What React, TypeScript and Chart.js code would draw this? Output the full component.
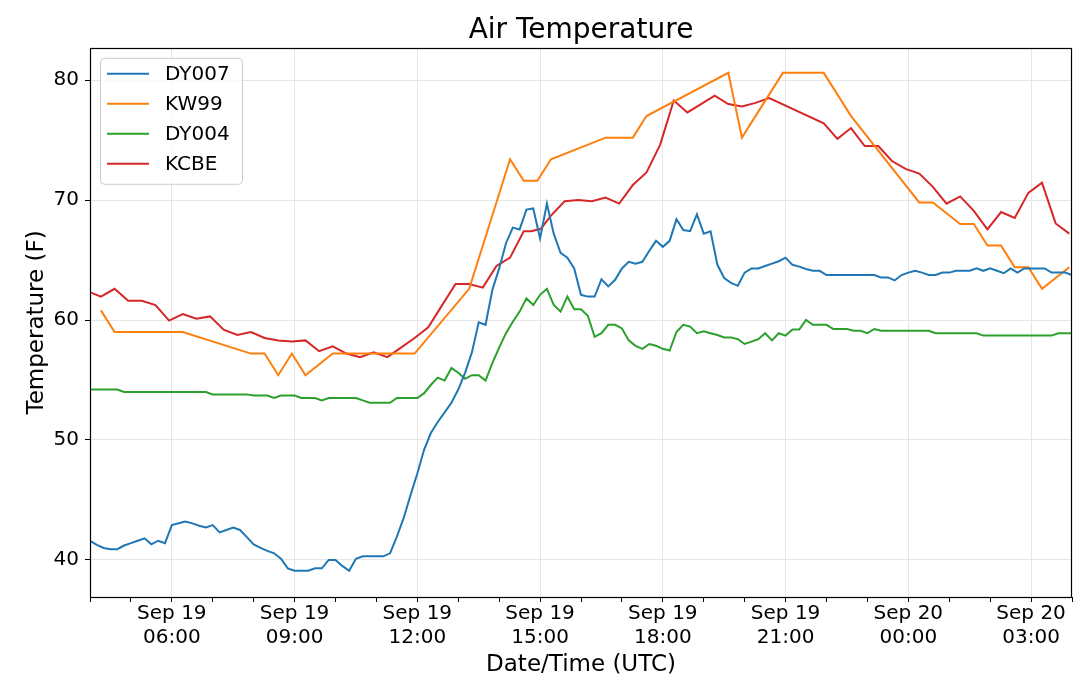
import React, { useEffect, useRef } from 'react';
import { Chart, registerables } from 'chart.js';

Chart.register(...registerables);

// ---------- data ----------
const SERIES_NAMES = ['DY007', 'KW99', 'DY004', 'KCBE'];
const SERIES_COLORS = ['#1f77b4', '#ff7f0e', '#2ca02c', '#d62728'];

// DY stations: one reading every 10 minutes from Sep 19 04:00 to Sep 20 04:00
const DY_START_HOUR = 4;
const DY_STEP_MINUTES = 10;

const DY007_VALUES = [
  41.6, 41.25, 41.0, 40.9, 40.9, 41.2, 41.4, 41.6, 41.8, 41.3,
  41.6, 41.4, 42.9, 43.05, 43.2, 43.05, 42.85, 42.7, 42.9, 42.3,
  42.5, 42.7, 42.5, 41.9, 41.3, 41.0, 40.75, 40.55, 40.1, 39.3,
  39.1, 39.1, 39.1, 39.3, 39.3, 40.0, 40.0, 39.5, 39.1, 40.1,
  40.3, 40.3, 40.3, 40.3, 40.55, 41.95, 43.5, 45.4, 47.2, 49.2,
  50.6, 51.5, 52.3, 53.1, 54.2, 55.6, 57.3, 59.8, 59.6, 62.5,
  64.3, 66.4, 67.7, 67.55, 69.2, 69.3, 66.8, 69.7, 67.2, 65.6,
  65.2, 64.3, 62.1, 61.95, 61.95, 63.4, 62.8, 63.35, 64.3, 64.85,
  64.7, 64.85, 65.75, 66.6, 66.1, 66.6, 68.4, 67.5, 67.4, 68.8,
  67.2, 67.4, 64.6, 63.5, 63.1, 62.85, 63.95, 64.3, 64.3, 64.5,
  64.7, 64.9, 65.2, 64.6, 64.45, 64.25, 64.1, 64.1, 63.75, 63.75,
  63.75, 63.75, 63.75, 63.75, 63.75, 63.75, 63.55, 63.55, 63.3, 63.75,
  63.95, 64.1, 63.95, 63.75, 63.75, 63.95, 63.95, 64.1, 64.1, 64.1,
  64.3, 64.1, 64.3, 64.1, 63.9, 64.3, 63.95, 64.3, 64.3, 64.3,
  64.3, 63.95, 63.95, 63.95, 63.75,
];

const DY004_VALUES = [
  54.2, 54.2, 54.2, 54.2, 54.2, 54.0, 54.0, 54.0, 54.0, 54.0,
  54.0, 54.0, 54.0, 54.0, 54.0, 54.0, 54.0, 54.0, 53.8, 53.8,
  53.8, 53.8, 53.8, 53.8, 53.7, 53.7, 53.7, 53.5, 53.7, 53.7,
  53.7, 53.5, 53.5, 53.5, 53.3, 53.5, 53.5, 53.5, 53.5, 53.5,
  53.3, 53.1, 53.1, 53.1, 53.1, 53.5, 53.5, 53.5, 53.5, 53.9,
  54.6, 55.2, 54.95, 56.0, 55.6, 55.1, 55.4, 55.4, 54.95, 56.4,
  57.7, 58.9, 59.85, 60.7, 61.8, 61.25, 62.1, 62.6, 61.25, 60.7,
  61.95, 60.9, 60.9, 60.35, 58.6, 58.9, 59.6, 59.6, 59.3, 58.3,
  57.85, 57.6, 58.0, 57.85, 57.6, 57.45, 59.0, 59.6, 59.45, 58.9,
  59.05, 58.9, 58.75, 58.55, 58.55, 58.4, 58.0, 58.2, 58.4, 58.9,
  58.3, 58.9, 58.7, 59.2, 59.2, 60.0, 59.6, 59.6, 59.6, 59.25,
  59.25, 59.25, 59.1, 59.1, 58.9, 59.25, 59.1, 59.1, 59.1, 59.1,
  59.1, 59.1, 59.1, 59.1, 58.9, 58.9, 58.9, 58.9, 58.9, 58.9,
  58.9, 58.7, 58.7, 58.7, 58.7, 58.7, 58.7, 58.7, 58.7, 58.7,
  58.7, 58.7, 58.9, 58.9, 58.9,
];

const KW99_TIMES = [
  '19 04:16', '19 04:36', '19 06:16', '19 07:56', '19 08:16', '19 08:36', '19 08:56',
  '19 09:16', '19 09:56', '19 11:56', '19 13:16', '19 14:16', '19 14:36', '19 14:56',
  '19 15:16', '19 16:36', '19 17:16', '19 17:36', '19 19:36', '19 19:56', '19 20:56',
  '19 21:56', '19 22:36', '20 00:16', '20 00:36', '20 01:16', '20 01:36', '20 01:56',
  '20 02:16', '20 02:36', '20 02:56', '20 03:16', '20 03:56',
];
const KW99_VALUES = [
  60.8, 59.0, 59.0, 57.2, 57.2, 55.4, 57.2,
  55.4, 57.2, 57.2, 62.6, 73.4, 71.6, 71.6,
  73.4, 75.2, 75.2, 77.0, 80.6, 75.2, 80.6,
  80.6, 77.0, 69.8, 69.8, 68.0, 68.0, 66.2,
  66.2, 64.4, 64.4, 62.6, 64.4,
];

const KCBE_TIMES = [
  '19 03:56', '19 04:16', '19 04:36', '19 04:56', '19 05:16', '19 05:36', '19 05:56',
  '19 06:16', '19 06:36', '19 06:56', '19 07:16', '19 07:36', '19 07:56', '19 08:16',
  '19 08:36', '19 08:56', '19 09:16', '19 09:36', '19 09:56', '19 10:16', '19 10:36',
  '19 10:56', '19 11:16', '19 11:36', '19 11:56', '19 12:16', '19 12:36', '19 12:56',
  '19 13:16', '19 13:36', '19 13:56', '19 14:16', '19 14:36', '19 14:47', '19 15:01',
  '19 15:16', '19 15:36', '19 15:56', '19 16:16', '19 16:36', '19 16:56', '19 17:16',
  '19 17:36', '19 17:56', '19 18:16', '19 18:36', '19 18:56', '19 19:16', '19 19:36',
  '19 19:56', '19 20:16', '19 20:36', '19 21:56', '19 22:16', '19 22:36', '19 22:56',
  '19 23:16', '19 23:36', '19 23:56', '20 00:16', '20 00:36', '20 00:56', '20 01:16',
  '20 01:36', '20 01:56', '20 02:16', '20 02:36', '20 02:56', '20 03:16', '20 03:36',
  '20 03:56',
];
const KCBE_VALUES = [
  62.4, 61.95, 62.6, 61.6, 61.6, 61.25, 59.95,
  60.5, 60.1, 60.3, 59.2, 58.75, 59.0, 58.5,
  58.3, 58.2, 58.3, 57.4, 57.8, 57.2, 56.9,
  57.3, 56.9, 57.7, 58.5, 59.4, 61.2, 63.0,
  63.0, 62.7, 64.5, 65.2, 67.4, 67.4, 67.6,
  68.7, 69.9, 70.0, 69.9, 70.2, 69.7, 71.25,
  72.3, 74.6, 78.3, 77.3, 78.0, 78.7, 78.0,
  77.8, 78.1, 78.5, 76.4, 75.1, 76.0, 74.5,
  74.5, 73.25, 72.6, 72.2, 71.1, 69.7, 70.3,
  69.1, 67.55, 69.0, 68.5, 70.6, 71.45, 68.05,
  67.2,
];

// axes
const X_MIN = 4;
const X_MAX = 28;
const X_TICK_HOURS = [4, 5, 6, 7, 8, 9, 10, 11, 12, 13, 14, 15, 16, 17, 18, 19, 20, 21, 22, 23, 24, 25, 26, 27, 28];
const X_MAJOR_HOURS = [6, 9, 12, 15, 18, 21, 24, 27];
const X_MAJOR_LABELS = [
  ['Sep 19', '06:00'], ['Sep 19', '09:00'], ['Sep 19', '12:00'], ['Sep 19', '15:00'],
  ['Sep 19', '18:00'], ['Sep 19', '21:00'], ['Sep 20', '00:00'], ['Sep 20', '03:00'],
];
const Y_MIN = 36.91;
const Y_MAX = 82.69;
const Y_TICKS = [40, 50, 60, 70, 80];

const TITLE = 'Air Temperature';
const X_TITLE = 'Date/Time (UTC)';
const Y_TITLE = 'Temperature (F)';

// ---------- helpers ----------
function parseTime(s: string): number {
  const day = Number(s.slice(0, 2));
  const hh = Number(s.slice(3, 5));
  const mm = Number(s.slice(6, 8));
  return (day - 19) * 24 + hh + mm / 60;
}

function dyPoints(values: number[]) {
  return values.map((v, i) => ({ x: DY_START_HOUR + (i * DY_STEP_MINUTES) / 60, y: v }));
}

function timedPoints(times: string[], values: number[]) {
  return times.map((t, i) => ({ x: parseTime(t), y: values[i] }));
}

const FONT = "'DejaVu Sans', 'Liberation Sans', sans-serif";
const GRID = '#e6e6e6';

const frameAndLegend = {
  id: 'frameAndLegend',
  afterDatasetsDraw(chart: any) {
    const { ctx, chartArea } = chart;
    const { left, top, right, bottom } = chartArea;
    ctx.save();
    // axes frame
    ctx.strokeStyle = '#000';
    ctx.lineWidth = 1.2;
    ctx.strokeRect(Math.round(left) + 0.5, Math.round(top) + 0.5, Math.round(right - left) - 1, Math.round(bottom - top));
    // legend
    const x0 = left + 10;
    const y0 = top + 10;
    const w = 142;
    const h = 126;
    ctx.beginPath();
    if (ctx.roundRect) ctx.roundRect(x0 + 0.5, y0 + 0.5, w, h, 4);
    else ctx.rect(x0 + 0.5, y0 + 0.5, w, h);
    ctx.fillStyle = 'rgba(255,255,255,0.8)';
    ctx.fill();
    ctx.strokeStyle = '#cccccc';
    ctx.lineWidth = 1;
    ctx.stroke();
    ctx.font = `20px ${FONT}`;
    ctx.textBaseline = 'middle';
    ctx.textAlign = 'left';
    chart.data.datasets.forEach((ds: any, i: number) => {
      const y = y0 + 16 + i * 30;
      ctx.beginPath();
      ctx.strokeStyle = ds.borderColor;
      ctx.lineWidth = 2;
      ctx.moveTo(x0 + 7, y);
      ctx.lineTo(x0 + 49, y);
      ctx.stroke();
      ctx.fillStyle = '#000';
      ctx.fillText(ds.label, x0 + 65, y + 1);
    });
    ctx.restore();
  },
};

export default function App() {
  const ref = useRef<HTMLCanvasElement>(null);

  useEffect(() => {
    document.body.style.margin = '0';
    const canvas = ref.current;
    if (!canvas) return;
    Chart.defaults.font.family = FONT;
    Chart.defaults.color = '#000';

    const seriesData = [
      dyPoints(DY007_VALUES),
      timedPoints(KW99_TIMES, KW99_VALUES),
      dyPoints(DY004_VALUES),
      timedPoints(KCBE_TIMES, KCBE_VALUES),
    ];

    const chart = new Chart(canvas, {
      type: 'line',
      data: {
        datasets: SERIES_NAMES.map((name, i) => ({
          label: name,
          data: seriesData[i],
          borderColor: SERIES_COLORS[i],
          backgroundColor: SERIES_COLORS[i],
          borderWidth: 2,
          pointRadius: 0,
          tension: 0,
          fill: false,
          clip: 0,
        })),
      },
      options: {
        animation: false,
        responsive: false,
        events: [],
        layout: { padding: { left: 0, right: 8, top: 0, bottom: 0 } },
        plugins: {
          legend: { display: false },
          tooltip: { enabled: false },
          title: {
            display: true,
            fullSize: false,
            text: TITLE,
            color: '#000',
            font: { family: FONT, size: 28, weight: 'normal' },
            padding: { top: 14.2, bottom: 0 },
          },
        },
        scales: {
          x: {
            type: 'linear',
            min: X_MIN,
            max: X_MAX,
            bounds: 'data',
            afterBuildTicks: (scale: any) => {
              scale.ticks = X_TICK_HOURS.map((v) => ({ value: v }));
            },
            afterFit: (scale: any) => {
              scale.height = 96;
            },
            ticks: {
              autoSkip: false,
              maxRotation: 0,
              minRotation: 0,
              padding: 0,
              color: '#000',
              font: { family: FONT, size: 20 },
              callback: (v: any) => {
                const idx = X_MAJOR_HOURS.indexOf(Number(v));
                return idx >= 0 ? X_MAJOR_LABELS[idx] : '';
              },
            },
            grid: {
              color: (ctx: any) =>
                ctx.tick && X_MAJOR_HOURS.indexOf(ctx.tick.value) >= 0 ? GRID : 'rgba(0,0,0,0)',
              tickColor: '#000',
              tickLength: 5,
              lineWidth: 1,
            },
            border: { display: false },
            title: {
              display: true,
              text: X_TITLE,
              color: '#000',
              font: { family: FONT, size: 23 },
              padding: { top: 0, bottom: 14 },
            },
          },
          y: {
            type: 'linear',
            min: Y_MIN,
            max: Y_MAX,
            bounds: 'data',
            afterBuildTicks: (scale: any) => {
              scale.ticks = Y_TICKS.map((v) => ({ value: v }));
            },
            afterFit: (scale: any) => {
              scale.width = 90;
            },
            ticks: {
              padding: 6,
              color: '#000',
              font: { family: FONT, size: 20 },
              callback: (v: any) => String(v),
            },
            grid: {
              color: GRID,
              tickColor: '#000',
              tickLength: 5,
              lineWidth: 1,
            },
            border: { display: false },
            title: {
              display: true,
              text: Y_TITLE,
              color: '#000',
              font: { family: FONT, size: 23 },
              padding: { top: 23, bottom: 0 },
            },
          },
        },
      },
      plugins: [frameAndLegend],
    } as any);

    return () => chart.destroy();
  }, []);

  return (
    <div style={{ position: 'absolute', left: 0, top: 0, width: 1080, height: 693, background: '#fff' }}>
      <canvas ref={ref} width={1080} height={693} style={{ display: 'block', width: 1080, height: 693 }} />
    </div>
  );
}
